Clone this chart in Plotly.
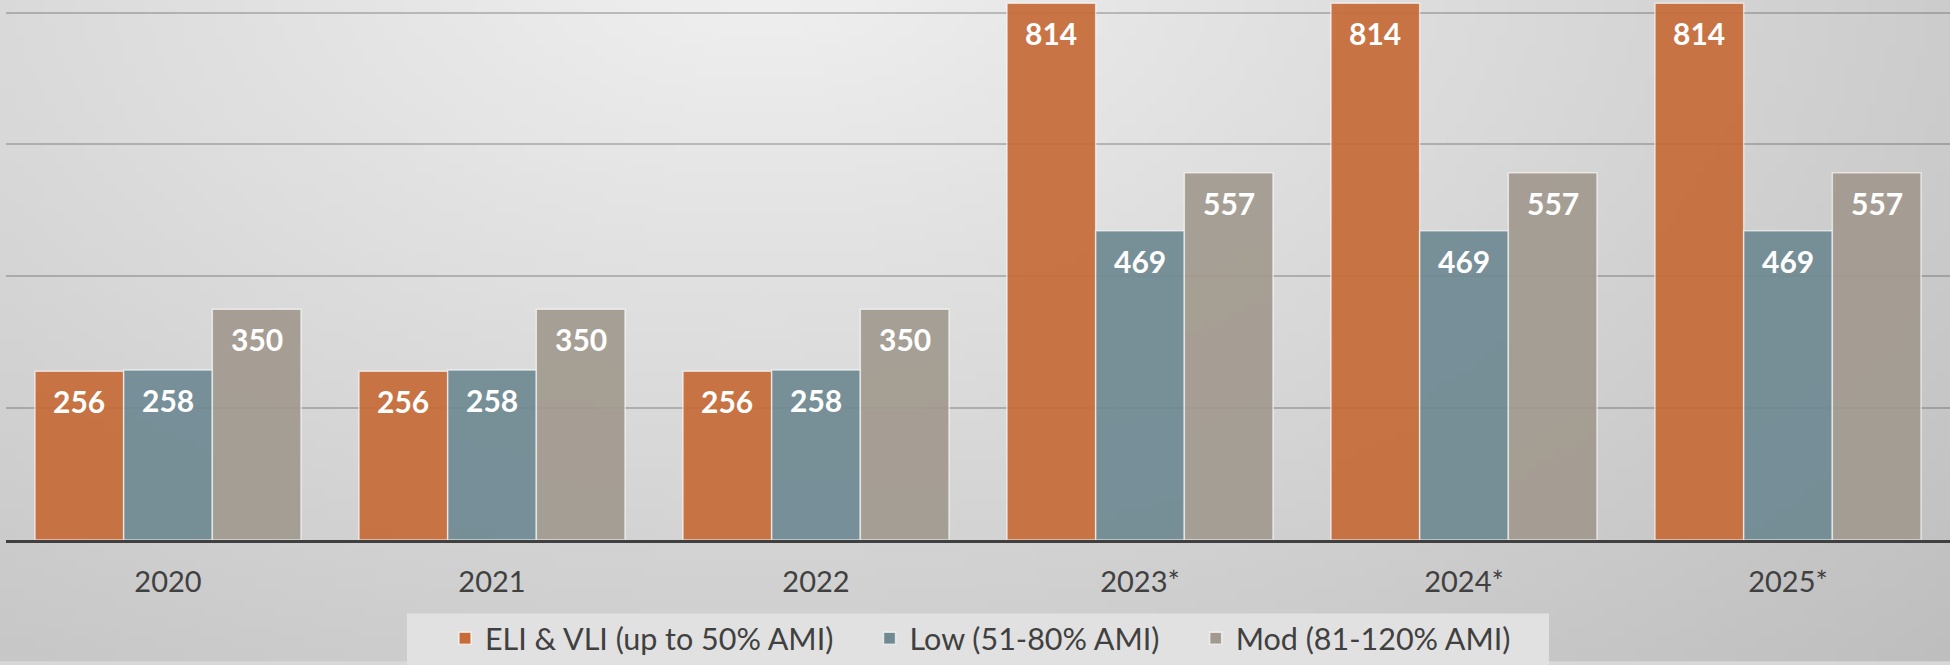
import base64
import struct
import zlib
import plotly.graph_objects as go

# ---------------- data ----------------
years = ["2020", "2021", "2022", "2023*", "2024*", "2025*"]
eli_vli = [256, 256, 256, 814, 814, 814]
low = [258, 258, 258, 469, 469, 469]
mod = [350, 350, 350, 557, 557, 557]
series_names = ["ELI & VLI (up to 50% AMI)", "Low (51-80% AMI)", "Mod (81-120% AMI)"]
series_values = [eli_vli, low, mod]

# ---------------- style ----------------
colors = ["#C76B38", "#6F8A93", "#A29A8F"]
W, H = 1950, 665
ML, MR, MT, MB = 6, 0, 0, 122
BARGAP = 0.179
FONT = "Lato"
NBSP = "\u00a0"


def gradient_png(w=195, h=67):
    """Soft grey radial backdrop, light at top centre, darker towards corners."""
    rows = []
    for j in range(h):
        py = (j + 0.5) / h * H
        row = bytearray([0])
        for i in range(w):
            px = (i + 0.5) / w * W
            dx = px - 760
            dy = (py + 50) * 1.6
            d = (dx * dx + dy * dy) ** 0.5
            v = int(round(241 - 0.031 * d))
            row.append(max(185, min(242, v)))
        rows.append(bytes(row))
    raw = b"".join(rows)

    def chunk(t, data):
        c = struct.pack(">I", len(data)) + t + data
        return c + struct.pack(">I", zlib.crc32(t + data) & 0xFFFFFFFF)

    png = (b"\x89PNG\r\n\x1a\n"
           + chunk(b"IHDR", struct.pack(">IIBBBBB", w, h, 8, 0, 0, 0, 0))
           + chunk(b"IDAT", zlib.compress(raw, 9))
           + chunk(b"IEND", b""))
    return "data:image/png;base64," + base64.b64encode(png).decode()


pw = W - ML - MR
ph = H - MT - MB

fig = go.Figure()
pad = [NBSP * 4, NBSP * 4, ""]
for name, vals, col, p in zip(series_names, series_values, colors, pad):
    fig.add_trace(go.Bar(
        x=years, y=vals, name=name + p,
        marker=dict(color=col, opacity=0.92,
                    line=dict(color="rgba(255,255,255,0.65)", width=1.5)),
        hoverinfo="x+y",
    ))

# value labels inside top of each bar
bw = (1 - BARGAP) / len(series_values)
annotations = []
for j, vals in enumerate(series_values):
    off = (j - (len(series_values) - 1) / 2) * bw
    for i, v in enumerate(vals):
        annotations.append(dict(
            x=i + off, y=v, xref="x", yref="y", text=str(v), showarrow=False,
            yanchor="middle", xanchor="center", yshift=-30,
            font=dict(family=FONT, size=30, color="white", weight="bold"),
        ))

fig.update_layout(
    width=W, height=H,
    margin=dict(l=ML, r=MR, t=MT, b=MB, pad=0),
    paper_bgcolor="#d8d8d8",
    plot_bgcolor="rgba(0,0,0,0)",
    barmode="group", bargap=BARGAP, bargroupgap=0,
    font=dict(family=FONT, color="#404040"),
    xaxis=dict(
        showline=True, linecolor="#404040", linewidth=3,
        showgrid=False, ticks="", ticklabelstandoff=14,
        tickfont=dict(family=FONT, size=29, color="#404040"),
        fixedrange=True,
    ),
    yaxis=dict(
        range=[0, 819], dtick=200, showticklabels=False,
        showgrid=True, gridcolor="rgba(60,60,60,0.28)", gridwidth=1.5,
        zeroline=False, fixedrange=True,
    ),
    legend=dict(
        orientation="h", x=(465 - 20 - ML) / pw, xanchor="left",
        y=(ph - 642.5) / ph, yanchor="middle",
        bgcolor="rgba(0,0,0,0)", font=dict(family=FONT, size=30.5, color="#404040"),
        itemclick=False, itemdoubleclick=False,
    ),
    annotations=annotations,
    images=[dict(
        source=gradient_png(), xref="paper", yref="paper",
        x=-ML / pw, y=1 + MT / ph, sizex=W / pw, sizey=H / ph,
        xanchor="left", yanchor="top", sizing="stretch", layer="below",
    )],
    shapes=[dict(
        type="rect", xref="paper", yref="paper", layer="below",
        x0=(407 - ML) / pw, x1=(1549 - ML) / pw,
        y0=-(H + 10 - ph) / ph, y1=-(617 - ph) / ph,
        fillcolor="#e1e1e1", line=dict(width=0),
    )],
    showlegend=True,
)

fig.write_html("out.html", config={"displayModeBar": False},
               post_script="document.body.style.margin='0';document.body.style.overflow='hidden';")
